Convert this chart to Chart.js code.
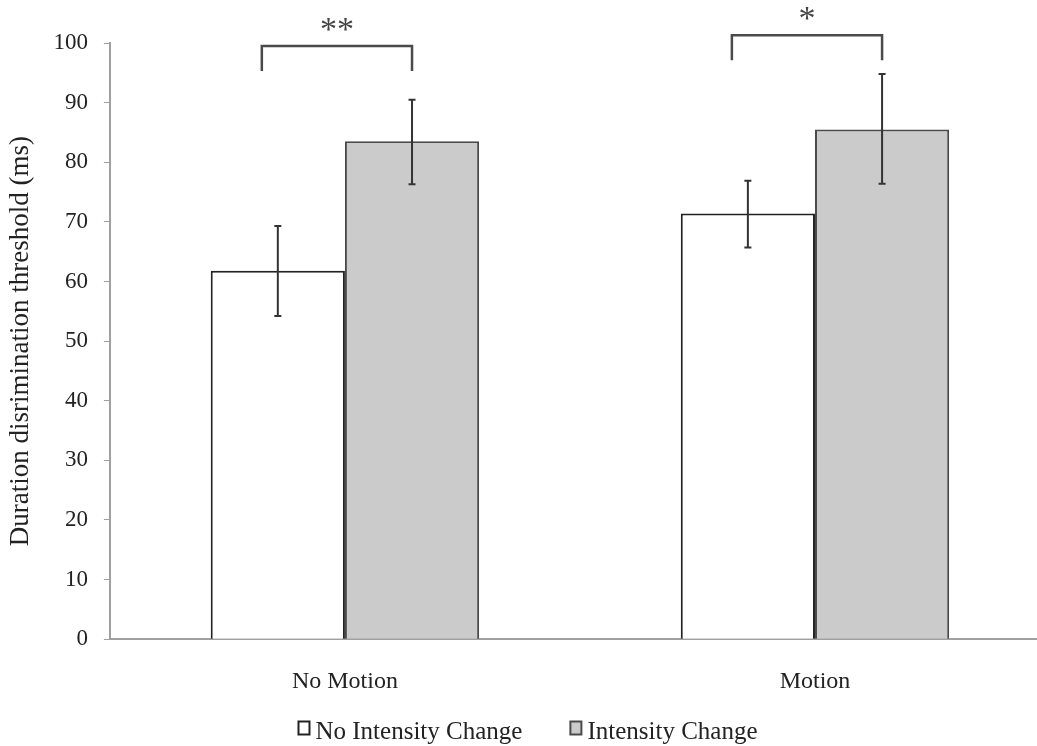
<!DOCTYPE html>
<html>
<head>
<meta charset="utf-8">
<script src="https://cdn.jsdelivr.net/npm/chart.js@4.4.1/dist/chart.umd.min.js"></script>
<style>
  html, body { margin: 0; padding: 0; background: #fff; overflow: hidden; }
  #wrap { width: 1050px; height: 746px; position: relative; }
</style>
</head>
<body>
<div id="wrap"><canvas id="barChart"></canvas></div>
<script>
// datos
const categorias = ['No Motion', 'Motion'];
const series = ['No Intensity Change', 'Intensity Change'];
const sinCambio = [61.8, 71.4];
const conCambio = [83.5, 85.5];
const sinCambioErrLow = [54.2, 65.7];
const sinCambioErrHigh = [69.3, 76.9];
const conCambioErrLow = [76.3, 76.4];
const conCambioErrHigh = [90.5, 94.8];
const yTicks = [0, 10, 20, 30, 40, 50, 60, 70, 80, 90, 100];
// brackets de significancia: etiqueta, altura, patas
const sigLabels = ['**', '*'];
const sigTop = [99.5, 101.3];
const sigFoot = [95.3, 97.1];

const serif = "'Liberation Serif', 'Times New Roman', serif";

// barras de error
const errorBars = {
    id: 'errorBars',
    afterDatasetsDraw(chart) {
        const ctx = chart.ctx;
        const y = chart.scales.y;
        const errs = [[sinCambioErrLow, sinCambioErrHigh], [conCambioErrLow, conCambioErrHigh]];
        ctx.save();
        ctx.strokeStyle = '#333';
        ctx.lineWidth = 2;
        errs.forEach((e, di) => {
            chart.getDatasetMeta(di).data.forEach((bar, i) => {
                const x = bar.x;
                const yl = y.getPixelForValue(e[0][i]);
                const yh = y.getPixelForValue(e[1][i]);
                ctx.beginPath();
                ctx.moveTo(x, yl); ctx.lineTo(x, yh);
                ctx.moveTo(x - 3.5, yl); ctx.lineTo(x + 3.5, yl);
                ctx.moveTo(x - 3.5, yh); ctx.lineTo(x + 3.5, yh);
                ctx.stroke();
            });
        });
        ctx.restore();
    }
};

// llaves de significancia
const sigBrackets = {
    id: 'sigBrackets',
    afterDraw(chart) {
        const ctx = chart.ctx;
        const y = chart.scales.y;
        const m0 = chart.getDatasetMeta(0).data;
        const m1 = chart.getDatasetMeta(1).data;
        ctx.save();
        ctx.strokeStyle = '#4a4a4a';
        ctx.lineWidth = 2.5;
        ctx.fillStyle = '#444';
        ctx.font = '34px ' + serif;
        ctx.textAlign = 'center';
        ctx.textBaseline = 'middle';
        categorias.forEach((c, i) => {
            const x1 = m0[i].x - 16;
            const x2 = m1[i].x;
            const yt = y.getPixelForValue(sigTop[i]);
            const yf = y.getPixelForValue(sigFoot[i]);
            ctx.beginPath();
            ctx.moveTo(x1, yf); ctx.lineTo(x1, yt); ctx.lineTo(x2, yt); ctx.lineTo(x2, yf);
            ctx.stroke();
            ctx.fillText(sigLabels[i], (x1 + x2) / 2, yt - 15);
        });
        ctx.restore();
    }
};

// leyenda abajo, como en la figura original
const leyenda = {
    id: 'leyenda',
    afterDraw(chart) {
        const ctx = chart.ctx;
        const colores = chart.data.datasets.map(d => [d.backgroundColor, d.borderColor]);
        ctx.save();
        ctx.font = '25px ' + serif;
        ctx.textBaseline = 'middle';
        ctx.textAlign = 'left';
        const boxW = 11, boxH = 13, gap = 6, sep = 48;
        const widths = series.map(s => boxW + gap + ctx.measureText(s).width);
        const total = widths[0] + sep + widths[1];
        let x = chart.width / 2 + 3 - total / 2;
        const yc = 732;
        series.forEach((s, i) => {
            ctx.fillStyle = colores[i][0];
            ctx.strokeStyle = colores[i][1];
            ctx.lineWidth = 2;
            ctx.fillRect(x, yc - boxH / 2 - 4, boxW, boxH);
            ctx.strokeRect(x, yc - boxH / 2 - 4, boxW, boxH);
            ctx.fillStyle = '#222';
            ctx.fillText(s, x + boxW + gap, yc);
            x += widths[i] + sep;
        });
        ctx.restore();
    }
};

const barCtx = document.getElementById('barChart').getContext('2d');
new Chart(barCtx, {
    type: 'bar',
    data: {
        labels: categorias,
        datasets: [{
            label: series[0],
            data: sinCambio,
            backgroundColor: '#ffffff',
            borderColor: '#222',
            borderWidth: 2,
            borderSkipped: 'bottom'
        }, {
            label: series[1],
            data: conCambio,
            backgroundColor: '#cbcbcb',
            borderColor: '#4a4a4a',
            borderWidth: 2,
            borderSkipped: 'bottom'
        }]
    },
    options: {
        responsive: true,
        maintainAspectRatio: false,
        animation: false,
        datasets: { bar: { categoryPercentage: 0.571, barPercentage: 1.0 } },
        layout: { padding: { top: 43, left: 5, right: 0, bottom: 30 } },
        scales: {
            x: {
                grid: { display: false },
                border: { color: '#a0a0a0', width: 2 },
                ticks: { color: '#222', font: { family: serif, size: 24 }, padding: 20 }
            },
            y: {
                min: 0,
                max: 100,
                afterBuildTicks(axis) { axis.ticks = yTicks.map(v => ({ value: v })); },
                grid: { drawOnChartArea: false, color: '#a0a0a0', tickLength: 6 },
                border: { color: '#a0a0a0', width: 2 },
                ticks: { color: '#222', font: { family: serif, size: 23 }, padding: 16 },
                title: {
                    display: true,
                    text: 'Duration disrimination threshold (ms)',
                    color: '#222',
                    font: { family: serif, size: 27 },
                    padding: { top: 0, bottom: 0 }
                }
            }
        },
        plugins: {
            legend: { display: false },
            tooltip: { enabled: false }
        }
    },
    plugins: [errorBars, sigBrackets, leyenda]
});
</script>
</body>
</html>
